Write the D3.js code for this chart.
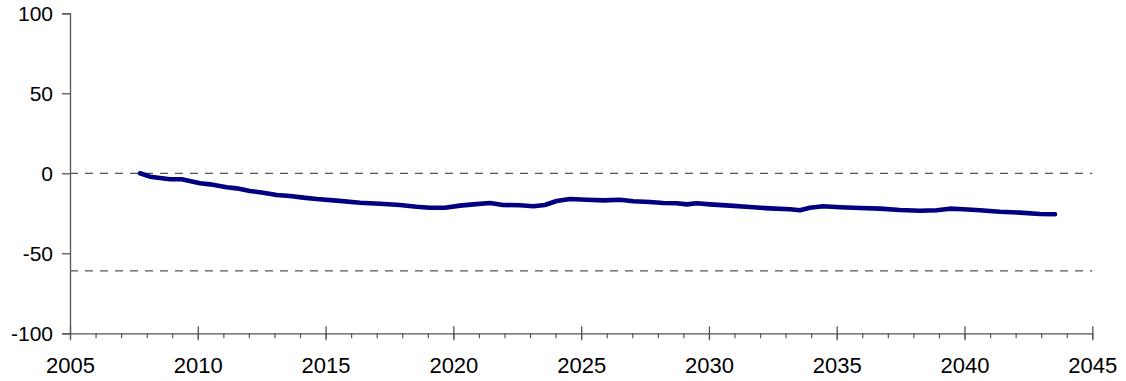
<!DOCTYPE html>
<html>
<head>
<meta charset="utf-8">
<script src="https://cdn.jsdelivr.net/npm/d3@7"></script>
<style>
  html, body { margin: 0; padding: 0; background: #fff; }
  svg { display: block; }
  text { font-family: "Liberation Sans", Arial, sans-serif; fill: #000; }
</style>
</head>
<body>
<svg id="chart" width="1126" height="381"></svg>
<script>
// ---- data ----
const years = [2007.74, 2008.13, 2008.91, 2009.37, 2010.09, 2010.48, 2011.13, 2011.52, 2012.04, 2012.56,
  2013.09, 2013.61, 2014.13, 2014.65, 2015.43, 2016.35, 2017.13, 2017.91, 2018.56, 2019.08,
  2019.67, 2020.26, 2020.78, 2021.43, 2021.95, 2022.61, 2023.13, 2023.58, 2024.04, 2024.56,
  2025.21, 2025.86, 2026.52, 2027.04, 2027.69, 2028.21, 2028.74, 2029.13, 2029.52, 2030.04,
  2030.82, 2031.6, 2032.39, 2033.17, 2033.56, 2033.95, 2034.47, 2035.12, 2035.91, 2036.69,
  2037.47, 2038.25, 2038.91, 2039.43, 2039.95, 2040.6, 2041.38, 2042.17, 2042.95, 2043.54];
const values = [0, -2.1, -3.7, -3.7, -6.2, -6.9, -8.7, -9.4, -11.1, -12.1,
  -13.6, -14.2, -15.2, -16.1, -17.1, -18.4, -19.0, -19.8, -20.9, -21.5,
  -21.5, -20.2, -19.4, -18.6, -19.8, -20.0, -20.6, -19.8, -17.3, -16.1,
  -16.5, -16.9, -16.5, -17.5, -17.9, -18.6, -18.7, -19.4, -18.7, -19.4,
  -20.2, -21.1, -21.9, -22.5, -23.1, -21.5, -20.6, -21.2, -21.7, -22.1,
  -22.9, -23.4, -23.1, -22.1, -22.5, -23.1, -24.0, -24.6, -25.4, -25.6];
const refLines = [0, -61];
const yTicks = [-100, -50, 0, 50, 100];
const yTickLabels = ["-100", "-50", "0", "50", "100"];
const xMajorTicks = [2005, 2010, 2015, 2020, 2025, 2030, 2035, 2040, 2045];
const xTickLabels = ["2005", "2010", "2015", "2020", "2025", "2030", "2035", "2040", "2045"];
const xMinorTicks = d3.range(2005, 2046, 1);

// ---- layout ----
const mLeft = 70, mRight = 1092.3, mTop = 13.3, mBottom = 333.3;
const svg = d3.select("#chart");
const x = d3.scaleLinear().domain([2005, 2045]).range([mLeft, mRight]);
const y = d3.scaleLinear().domain([-100, 100]).range([mBottom, mTop]);
const axisColor = "#555";
const font = "Liberation Sans, Arial, sans-serif";

// reference dashed lines
svg.append("g").selectAll("line").data(refLines).join("line")
  .attr("x1", mLeft).attr("x2", mRight)
  .attr("y1", d => y(d)).attr("y2", d => y(d))
  .attr("stroke", "#555").attr("stroke-width", 1.2)
  .attr("stroke-dasharray", "8,7");

// y axis
const yAxis = svg.append("g").attr("transform", `translate(${mLeft},0)`)
  .call(d3.axisLeft(y).tickValues(yTicks).tickSize(8).tickPadding(9)
    .tickFormat((d, i) => yTickLabels[i]));
yAxis.select(".domain").attr("stroke", axisColor).attr("stroke-width", 1.3);
yAxis.selectAll(".tick line").attr("stroke", axisColor).attr("stroke-width", 1.3);
yAxis.selectAll("text").attr("font-size", 21).attr("font-family", font).attr("fill", "#000");

// x axis minor ticks
const xMinor = svg.append("g").attr("transform", `translate(0,${mBottom})`)
  .call(d3.axisBottom(x).tickValues(xMinorTicks).tickSize(5).tickFormat(""));
xMinor.select(".domain").remove();
xMinor.selectAll(".tick line").attr("stroke", axisColor).attr("stroke-width", 1.2);

// x axis major
const xAxis = svg.append("g").attr("transform", `translate(0,${mBottom})`)
  .call(d3.axisBottom(x).tickValues(xMajorTicks).tickSizeInner(7).tickSizeOuter(0).tickPadding(17)
    .tickFormat((d, i) => xTickLabels[i]));
xAxis.select(".domain").attr("stroke", axisColor).attr("stroke-width", 1.3);
xAxis.selectAll(".tick line").attr("stroke", axisColor).attr("stroke-width", 1.3).attr("y1", -7);
xAxis.selectAll("text").attr("font-size", 22).attr("font-family", font).attr("fill", "#000");

// data line
const pts = years.map((d, i) => [d, values[i]]);
svg.append("path").datum(pts)
  .attr("fill", "none").attr("stroke", "#000080").attr("stroke-width", 4.6)
  .attr("stroke-linejoin", "round").attr("stroke-linecap", "round")
  .attr("d", d3.line().x(d => x(d[0])).y(d => y(d[1])));
</script>
</body>
</html>
